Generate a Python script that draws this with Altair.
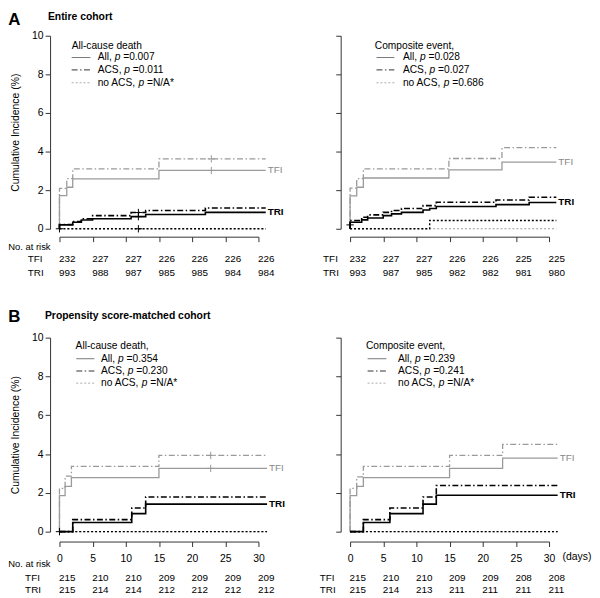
import altair as alt
import pandas as pd

FONT = "Liberation Sans"
GRAY = "#9a9a9a"
BLACK = "#000000"
AXIS = "#333333"
CROSS = "M-1,0H1M0,-1V1"
DASHDOT = [6, 2.5, 1.5, 2.5]
DOT = [2, 2]

DAY_TICKS = [0, 5, 10, 15, 20, 25, 30]
PCT_TICKS = [0, 2, 4, 6, 8, 10]

# ---------- A left: entire cohort, all-cause death
A1_TFI_ALL_DAY = [0, 0, 1.1, 2, 15]
A1_TFI_ALL_VAL = [0, 1.72, 2.15, 2.58, 3.02]
A1_TFI_ACS_DAY = [0, 0, 1.1, 2, 15]
A1_TFI_ACS_VAL = [0, 2.09, 2.6, 3.1, 3.62]
A1_TRI_ALL_DAY = [0, 0, 2, 3.3, 5, 10.8, 13, 22]
A1_TRI_ALL_VAL = [0, 0.2, 0.34, 0.45, 0.52, 0.63, 0.74, 0.85]
A1_TRI_ACS_DAY = [0, 0, 2, 3.3, 5, 10.8, 13, 22]
A1_TRI_ACS_VAL = [0, 0.22, 0.38, 0.52, 0.68, 0.84, 0.95, 1.08]
A1_TFI_NOACS_DAY = [0]
A1_TFI_NOACS_VAL = [0]
A1_TRI_NOACS_DAY = [0]
A1_TRI_NOACS_VAL = [0]
A1_CENS_TFI_DAY = [22.9, 22.9]
A1_CENS_TFI_VAL = [3.02, 3.62]
A1_CENS_TRI_DAY = [0, 11.9, 11.9, 11.9]
A1_CENS_TRI_VAL = [0, 0, 0.63, 0.84]
A1_RISK_TFI = [232, 227, 227, 226, 226, 226, 226]
A1_RISK_TRI = [993, 988, 987, 985, 985, 984, 984]
A1_PVALS = ["0.007", "0.011", "N/A*"]

# ---------- A right: entire cohort, composite event
A2_TFI_ALL_DAY = [0, 0, 1, 2, 14.9, 22.9]
A2_TFI_ALL_VAL = [0, 1.7, 2.15, 2.63, 3.05, 3.45]
A2_TFI_ACS_DAY = [0, 0, 1, 2, 14.9, 22.9]
A2_TFI_ACS_VAL = [0, 2.1, 2.6, 3.1, 3.64, 4.2]
A2_TRI_ALL_DAY = [0, 0, 1.75, 2.65, 5, 6.25, 7.75, 11, 12, 13, 22, 27]
A2_TRI_ALL_VAL = [0, 0.34, 0.46, 0.56, 0.68, 0.77, 0.85, 0.97, 1.05, 1.15, 1.25, 1.36]
A2_TRI_ACS_DAY = [0, 0, 1.75, 2.65, 5, 6.25, 7.75, 11, 13, 22, 27]
A2_TRI_ACS_VAL = [0, 0.43, 0.6, 0.72, 0.85, 0.95, 1.05, 1.2, 1.37, 1.49, 1.63]
A2_TFI_NOACS_DAY = [0]
A2_TFI_NOACS_VAL = [0]
A2_TRI_NOACS_DAY = [0, 12]
A2_TRI_NOACS_VAL = [0, 0.43]
A2_CENS_TFI_DAY = []
A2_CENS_TFI_VAL = []
A2_CENS_TRI_DAY = [0]
A2_CENS_TRI_VAL = [0.2]
A2_RISK_TFI = [232, 227, 227, 226, 226, 225, 225]
A2_RISK_TRI = [993, 987, 985, 982, 982, 981, 980]
A2_PVALS = ["0.028", "0.027", "0.686"]

# ---------- B left: matched cohort, all-cause death
B1_TFI_ALL_DAY = [0, 0, 0.85, 1.8, 15]
B1_TFI_ALL_VAL = [0, 1.86, 2.33, 2.79, 3.26]
B1_TFI_ACS_DAY = [0, 0, 0.85, 1.8, 15]
B1_TFI_ACS_VAL = [0, 2.23, 2.86, 3.37, 3.93]
B1_TRI_ALL_DAY = [0, 2, 10.9, 13]
B1_TRI_ALL_VAL = [0, 0.47, 0.93, 1.42]
B1_TRI_ACS_DAY = [0, 2, 10.9, 13]
B1_TRI_ACS_VAL = [0, 0.62, 1.22, 1.79]
B1_TFI_NOACS_DAY = [0]
B1_TFI_NOACS_VAL = [0]
B1_TRI_NOACS_DAY = [0]
B1_TRI_NOACS_VAL = [0]
B1_CENS_TFI_DAY = [22.8, 22.8]
B1_CENS_TFI_VAL = [3.26, 3.93]
B1_CENS_TRI_DAY = [0]
B1_CENS_TRI_VAL = [0]
B1_RISK_TFI = [215, 210, 210, 209, 209, 209, 209]
B1_RISK_TRI = [215, 214, 214, 212, 212, 212, 212]
B1_PVALS = ["0.354", "0.230", "N/A*"]

# ---------- B right: matched cohort, composite event
B2_TFI_ALL_DAY = [0, 0, 1, 2, 15, 23]
B2_TFI_ALL_VAL = [0, 1.86, 2.33, 2.79, 3.26, 3.79]
B2_TFI_ACS_DAY = [0, 0, 1, 2, 15, 23]
B2_TFI_ACS_VAL = [0, 2.23, 2.82, 3.37, 3.93, 4.5]
B2_TRI_ALL_DAY = [0, 2, 6, 11, 13]
B2_TRI_ALL_VAL = [0, 0.47, 0.93, 1.42, 1.88]
B2_TRI_ACS_DAY = [0, 2, 6, 11, 13]
B2_TRI_ACS_VAL = [0, 0.62, 1.22, 1.79, 2.38]
B2_TFI_NOACS_DAY = [0]
B2_TFI_NOACS_VAL = [0]
B2_TRI_NOACS_DAY = [0]
B2_TRI_NOACS_VAL = [0]
B2_CENS_TFI_DAY = []
B2_CENS_TFI_VAL = []
B2_CENS_TRI_DAY = []
B2_CENS_TRI_VAL = []
B2_RISK_TFI = [215, 210, 210, 209, 209, 208, 208]
B2_RISK_TRI = [215, 214, 213, 211, 211, 211, 211]
B2_PVALS = ["0.239", "0.241", "N/A*"]

ARIAL = {'A': 667, 'l': 222, ',': 278, ' ': 278, 'C': 722, 'S': 667,
         'n': 556, 'o': 556, 'p': 556}


def tw(s, fs):
    return sum(ARIAL[c] for c in s) * fs / 1000.0


def xenc(bottom):
    kw = dict(values=DAY_TICKS, grid=False, labels=bottom, tickSize=5,
              tickColor=AXIS, domainColor=AXIS, tickWidth=1, domainWidth=1,
              offset=10 if bottom else 8, labelFont=FONT, labelFontSize=10.5,
              labelColor="black", labelPadding=7, labelFlush=False)
    return alt.X("day:Q", scale=alt.Scale(domain=[0, 30], nice=False, zero=False),
                 axis=alt.Axis(title=None, **kw))


def yenc(left):
    kw = dict(values=PCT_TICKS, grid=False, labels=left, tickSize=5,
              tickColor=AXIS, domainColor=AXIS, tickWidth=1, domainWidth=1,
              offset=9.5, labelFont=FONT, labelFontSize=10.5, labelColor="black",
              labelPadding=2)
    if left:
        kw.update(title="Cumulative Incidence (%)", titleFont=FONT, titleFontSize=10.5,
                  titleFontWeight="normal", titleColor="black", titlePadding=11)
    else:
        kw.update(title=None)
    return alt.Y("val:Q", scale=alt.Scale(domain=[0, 10], nice=False, zero=False),
                 axis=alt.Axis(**kw))


def one():
    return pd.DataFrame({"k": [0]})


def txt(s, x, y, fs=10.3, weight="normal", style="normal", color="black", align="left"):
    return alt.Chart(pd.DataFrame({"t": [s]})).mark_text(
        font=FONT, fontSize=fs, fontWeight=weight, fontStyle=style, color=color,
        align=align, baseline="middle").encode(x=alt.value(x), y=alt.value(y), text="t:N")


def seg(x1, x2, y, color, dash, width=1):
    kw = dict(color=color, strokeWidth=width)
    if dash:
        kw["strokeDash"] = dash
    return alt.Chart(one()).mark_rule(**kw).encode(
        x=alt.value(x1), x2=alt.value(x2), y=alt.value(y))


def curve(days, vals, end, color, dash, width, X, Y):
    d = list(days) + [end]
    v = list(vals) + [vals[-1]]
    df = pd.DataFrame({"day": d, "val": v, "i": list(range(len(d)))})
    kw = dict(color=color, strokeWidth=width)
    if dash:
        kw["strokeDash"] = dash
    return alt.Chart(df).mark_line(interpolate="step-after", clip=False, **kw).encode(
        x=X, y=Y, order=alt.Order("i:Q"))


def censor(days, vals, color, X, Y):
    df = pd.DataFrame({"day": list(days), "val": list(vals)})
    return alt.Chart(df).mark_point(shape=CROSS, size=55, filled=False, color=color,
                                    strokeWidth=1, opacity=1, clip=False).encode(x=X, y=Y)


def risk(nums, y, X):
    df = pd.DataFrame({"day": DAY_TICKS, "n": [str(n) for n in nums]})
    return alt.Chart(df).mark_text(font=FONT, fontSize=10, align="left", baseline="middle",
                                   color="black", dx=-0.5).encode(
        x=X, y=alt.value(y), text="n:N")


def endlabel(s, end, val, color, weight, X, Y):
    df = pd.DataFrame({"day": [end], "val": [val], "t": [s]})
    return alt.Chart(df).mark_text(font=FONT, fontSize=10, fontWeight=weight, color=color,
                                   align="left", baseline="middle", dx=2).encode(
        x=X, y=Y, text="t:N")


def legend(title, pvals, tx, ty, lx1, lx2, textx, rows, fs=10.3):
    layers = [txt(title, tx, ty, fs=fs)]
    styles = [("#777777", None), ("#333333", DASHDOT), ("#aaaaaa", DOT)]
    prefixes = ["All, ", "ACS, ", "no ACS, "]
    for pre, pv, y, (col, dash) in zip(prefixes, pvals, rows, styles):
        layers.append(seg(lx1, lx2, y, col, dash))
        layers.append(txt(pre.strip(), textx, y, fs=fs))
        px = textx + tw(pre, fs)
        layers.append(txt("p", px, y, fs=fs, style="italic"))
        layers.append(txt("=" + pv, px + tw("p ", fs), y, fs=fs))
    return layers


def panel(P, end, bottom, left, W, H, leg, risk_rows, rowlab_x, extra):
    X = xenc(bottom)
    Y = yenc(left)
    L = []
    L.append(curve(P["tfi_noacs_d"], P["tfi_noacs_v"], end, GRAY, DOT, 1.2, X, Y))
    L.append(curve(P["tfi_acs_d"], P["tfi_acs_v"], end, GRAY, DASHDOT, 1.3, X, Y))
    L.append(curve(P["tfi_all_d"], P["tfi_all_v"], end, GRAY, None, 1.3, X, Y))
    L.append(curve(P["tri_noacs_d"], P["tri_noacs_v"], end, BLACK, DOT, 1.4, X, Y))
    L.append(curve(P["tri_acs_d"], P["tri_acs_v"], end, BLACK, DASHDOT, 1.6, X, Y))
    L.append(curve(P["tri_all_d"], P["tri_all_v"], end, BLACK, None, 1.6, X, Y))
    if len(P["cens_tfi_d"]):
        L.append(censor(P["cens_tfi_d"], P["cens_tfi_v"], GRAY, X, Y))
    if len(P["cens_tri_d"]):
        L.append(censor(P["cens_tri_d"], P["cens_tri_v"], BLACK, X, Y))
    L.append(endlabel("TFI", end, P["tfi_all_v"][-1], "#888888", "normal", X, Y))
    L.append(endlabel("TRI", end, P["tri_all_v"][-1], BLACK, "bold", X, Y))
    L.extend(leg)
    L.append(txt("TFI", rowlab_x, risk_rows[0], fs=10))
    L.append(txt("TRI", rowlab_x, risk_rows[1], fs=10))
    L.append(risk(P["risk_tfi"], risk_rows[0], X))
    L.append(risk(P["risk_tri"], risk_rows[1], X))
    L.extend(extra)
    return alt.layer(*L).properties(width=W, height=H)


def pack(prefix):
    g = globals()
    return {
        "tfi_all_d": g[prefix + "_TFI_ALL_DAY"], "tfi_all_v": g[prefix + "_TFI_ALL_VAL"],
        "tfi_acs_d": g[prefix + "_TFI_ACS_DAY"], "tfi_acs_v": g[prefix + "_TFI_ACS_VAL"],
        "tfi_noacs_d": g[prefix + "_TFI_NOACS_DAY"], "tfi_noacs_v": g[prefix + "_TFI_NOACS_VAL"],
        "tri_all_d": g[prefix + "_TRI_ALL_DAY"], "tri_all_v": g[prefix + "_TRI_ALL_VAL"],
        "tri_acs_d": g[prefix + "_TRI_ACS_DAY"], "tri_acs_v": g[prefix + "_TRI_ACS_VAL"],
        "tri_noacs_d": g[prefix + "_TRI_NOACS_DAY"], "tri_noacs_v": g[prefix + "_TRI_NOACS_VAL"],
        "cens_tfi_d": g[prefix + "_CENS_TFI_DAY"], "cens_tfi_v": g[prefix + "_CENS_TFI_VAL"],
        "cens_tri_d": g[prefix + "_CENS_TRI_DAY"], "cens_tri_v": g[prefix + "_CENS_TRI_VAL"],
        "risk_tfi": g[prefix + "_RISK_TFI"], "risk_tri": g[prefix + "_RISK_TRI"],
    }


W = 201
HT = 195
HB = 196

TL = panel(pack("A1"), 31.1, False, True, W, HT,
           legend("All-cause death", A1_PVALS, 12.3, 10.3, 12.3, 31.3, 38.6, [22, 34.5, 47.5]),
           [225.3, 239.7], -32,
           [txt("A", -51.7, -16, fs=17, weight="bold"),
            txt("Entire cohort", -11.7, -19, fs=10.5, weight="bold"),
            txt("No. at risk", -51.7, 213.7, fs=9.5)])

TR = panel(pack("A2"), 31.1, False, False, W, HT,
           legend("Composite event,", A2_PVALS, 25, 10.3, 26.7, 44.7, 53.4, [22, 34.5, 47.5]),
           [225.3, 239.7], -27.3, [])

BL = panel(pack("B1"), 31.3, True, True, W, HB,
           legend("All-cause death,", B1_PVALS, 16.3, 8.7, 17, 35.3, 42, [21.3, 33.7, 46]),
           [242.4, 255], -34.7,
           [txt("B", -51.7, -20.3, fs=17, weight="bold"),
            txt("Propensity score-matched cohort", -14.7, -21.6, fs=10.5, weight="bold"),
            txt("No. at risk", -51.7, 228.4, fs=9.5)])

BR = panel(pack("B2"), 31.3, True, False, W, HB,
           legend("Composite event,", B2_PVALS, 16, 8.7, 17.7, 36.7, 48.4, [21.3, 33.7, 46]),
           [242.4, 255], -30.6,
           [txt("(days)", 214.7, 221.7, fs=10.5)])

chart = alt.concat(TL, TR, BL, BR, columns=2,
                   spacing={"row": 110, "column": 92.6},
                   bounds="flush").properties(padding=0).configure_view(strokeWidth=0)

chart.save("out.html", embed_options={"renderer": "svg", "actions": False})
